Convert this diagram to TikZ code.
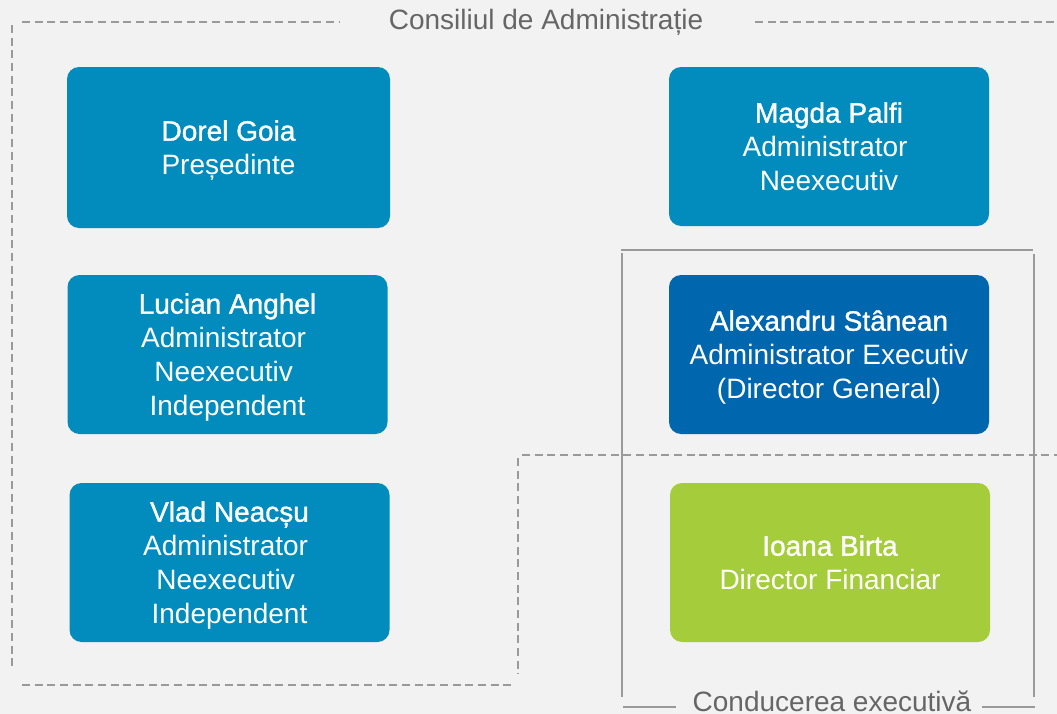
\documentclass[tikz,border=0pt]{standalone}
\usepackage{fontspec}
\setmainfont{Liberation Sans}
\newfontfamily\fbold[FakeBold=1.2]{Liberation Sans}
\newcommand{\tsp}{\makebox[5.85pt]{}}
\newcommand{\lastl}[1]{\raisebox{0pt}[\height][0pt]{#1}}
\definecolor{bgc}{HTML}{F2F2F2}
\definecolor{teal}{HTML}{028CBD}
\definecolor{dblue}{HTML}{0066AD}
\definecolor{lgreen}{HTML}{A5CD3B}
\definecolor{lgray}{HTML}{9A9A9A}
\definecolor{tgray}{HTML}{666666}
\begin{document}
\begin{tikzpicture}[x=0.75pt,y=-0.75pt,
  box/.style={rectangle, rounded corners=9pt, draw=none, text=white,
    align=center, font=\fontsize{21}{25.5}\selectfont,
    minimum width=240pt, minimum height=119.25pt, inner sep=0pt},
  dline/.style={draw=lgray, line width=1.5pt, dash pattern=on 6pt off 3.5pt},
  sline/.style={draw=lgray, line width=1.5pt},
  lbl/.style={text=tgray, font=\fontsize{21}{25.5}\selectfont, inner sep=0pt}]
\fill[bgc] (0,0) rectangle (1057,714);
\useasboundingbox (0,0) rectangle (1057,714);

% boxes
\node[box, fill=teal, minimum width=242.25pt, minimum height=120.75pt] (dorel) at (228.5,147.5)
  {{\fbold Dorel Goia}\\\lastl{Președinte}};
\node[box, fill=teal] (magda) at (829,146.5)
  {{\fbold Magda Palfi}\\Administrator\tsp\\\lastl{Neexecutiv}};
\node[box, fill=teal] (lucian) at (227.5,354.5)
  {{\fbold Lucian Anghel}\\Administrator\tsp\\Neexecutiv\tsp\\\lastl{Independent}};
\node[box, fill=dblue] (alex) at (829,354.5)
  {{\fbold Alexandru Stânean}\\Administrator Executiv\\\lastl{(Director General)}};
\node[box, fill=teal] (vlad) at (229.5,562.5)
  {{\fbold Vlad Neacșu}\\Administrator\tsp\\Neexecutiv\tsp\\\lastl{Independent}};
\node[box, fill=lgreen] (ioana) at (830,562.5)
  {{\fbold Ioana Birta}\\\lastl{Director Financiar}};

% Consiliul de Administratie (dashed)
\node[lbl] (tconsiliu) at (546,22) {Consiliul de Administrație};
\coordinate (c1) at (22,22);
\coordinate (c2) at (340,22);
\coordinate (c3) at (755,22);
\coordinate (c4) at (1057,22);
\coordinate (c5) at (12,25);
\coordinate (c6) at (12,670);
\coordinate (c7) at (22,685);
\coordinate (c8) at (512,685);
\coordinate (c9) at (518,458);
\coordinate (c10) at (518,674);
\coordinate (c11) at (522,455);
\coordinate (c12) at (1057,455);
\draw[dline] (c1) -- (c2);
\draw[dline] (c3) -- (c4);
\draw[dline] (c5) -- (c6);
\draw[dline] (c7) -- (c8);
\draw[dline] (c9) -- (c10);
\draw[dline] (c11) -- (c12);

% Conducerea executiva (solid)
\node[lbl] (tcond) at (832,701) {Conducerea executivă};
\coordinate (e1) at (621,250);
\coordinate (e2) at (1033,250);
\coordinate (e3) at (622,253);
\coordinate (e4) at (622,697);
\coordinate (e5) at (1034,254);
\coordinate (e6) at (1034,697);
\coordinate (e7) at (623,707);
\coordinate (e8) at (676,707);
\coordinate (e9) at (982,707);
\coordinate (e10) at (1035,707);
\draw[sline] (e1) -- (e2);
\draw[sline] (e3) -- (e4);
\draw[sline] (e5) -- (e6);
\draw[sline] (e7) -- (e8);
\draw[sline] (e9) -- (e10);
\end{tikzpicture}
\end{document}
